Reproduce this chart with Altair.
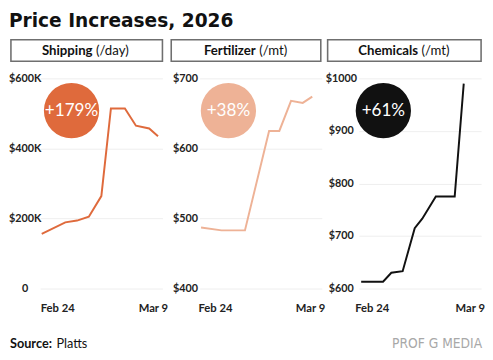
import altair as alt
import pandas as pd

# ---- data ----
ship_days = [-2.1, 1.1, 2.7, 4.3, 6.0, 7.3, 9.2, 10.7, 12.5, 13.7]
ship_vals = [156000, 189000, 194000, 205000, 264000, 514000, 514000, 465000, 457000, 435000]

fert_days = [-1.9, 0.9, 4.1, 7.4, 8.8, 10.4, 12.0, 13.3]
fert_vals = [487, 483, 483, 625, 625, 668, 665, 674]

chem_days = [-1.4, 1.5, 2.6, 4.1, 5.7, 6.7, 8.5, 11.0, 12.2]
chem_vals = [613, 613, 630, 633, 715, 733, 775, 775, 990]

titles_bold = ["Shipping", "Fertilizer", "Chemicals"]
titles_rest = ["(/day)", "(/mt)", "(/mt)"]
changes = ["+179%", "+38%", "+61%"]
x_ticks = [0, 13]
x_tick_labels = ["Feb 24", "Mar 9"]

FONT = "Lato"
W, H = 125, 215


def panel(days, vals, color, ydomain, yvals, ylabel_expr, xdomain, ylab_pad,
          circ_x, pct, tb, tr, split, box_l, box_r, text_color="white",
          extra=None):
    df = pd.DataFrame({"day": days, "value": vals})
    lab_expr = ("datum.value == %d ? '%s' : '%s'"
                % (x_ticks[0], x_tick_labels[0], x_tick_labels[1]))
    line = alt.Chart(df).mark_line(color=color, strokeWidth=2).encode(
        x=alt.X("day:Q",
                scale=alt.Scale(domain=xdomain, nice=False, zero=False),
                axis=alt.Axis(values=x_ticks, labelExpr=lab_expr, grid=False,
                              domain=False, ticks=False, tickSize=0,
                              labelPadding=14, labelFontSize=11.5,
                              labelFont=FONT, labelColor="#222",
                              labelFontWeight="bold", title=None)),
        y=alt.Y("value:Q",
                scale=alt.Scale(domain=ydomain, nice=False, zero=False),
                axis=alt.Axis(values=yvals, labelExpr=ylabel_expr, domain=False,
                              ticks=False, tickSize=0, gridColor="#eeeeee",
                              gridWidth=1, labelAlign="center",
                              labelBaseline="middle",
                              labelPadding=ylab_pad, labelFontSize=11,
                              labelFont=FONT, labelColor="#222",
                              labelFontWeight="bold", title=None)),
    )
    one = alt.Chart(pd.DataFrame({"pct": [pct], "tb": [tb], "tr": [tr]}))
    circ = one.mark_circle(color=color, opacity=1, size=3200).encode(
        x=alt.value(circ_x), y=alt.value(33))
    ctext = one.mark_text(color=text_color, fontSize=17.5, font=FONT,
                          align="center", baseline="middle").encode(
        x=alt.value(circ_x), y=alt.value(34), text="pct:N")
    box = one.mark_rect(fill="white", stroke="#6f6f6f", strokeWidth=1.6).encode(
        x=alt.value(box_l), x2=alt.value(box_r),
        y=alt.value(-39.5), y2=alt.value(-17.5))
    cx = (box_l + box_r) / 2
    hb = one.mark_text(fontSize=13.5, font=FONT, fontWeight="bold", color="#111",
                       align="right", baseline="alphabetic").encode(
        x=alt.value(cx + split), y=alt.value(-23.5), text="tb:N")
    hr = one.mark_text(fontSize=13.5, font=FONT, color="#111",
                       align="left", baseline="alphabetic").encode(
        x=alt.value(cx + split + 3.5), y=alt.value(-23.5), text="tr:N")
    layers = [line, circ, ctext, box, hb, hr]
    if extra:
        layers += extra
    return alt.layer(*layers).properties(width=W, height=H)


meta = alt.Chart(pd.DataFrame({"a": [0]}))
title = meta.mark_text(text="Price Increases, 2026", fontSize=19,
                       font="DejaVu Sans", fontWeight="bold", color="#111",
                       align="left", baseline="alphabetic").encode(
    x=alt.value(-32), y=alt.value(-53))
src_b = meta.mark_text(text="Source:", fontSize=13, font=FONT, fontWeight="bold",
                       color="#111", align="left", baseline="alphabetic").encode(
    x=alt.value(-31), y=alt.value(H + 61))
src_r = meta.mark_text(text="Platts", fontSize=13, font=FONT, color="#111",
                       align="left", baseline="alphabetic").encode(
    x=alt.value(16.5), y=alt.value(H + 61))
brand = meta.mark_text(text="PROF G MEDIA", fontSize=14,
                       font="DejaVu Sans Condensed, Liberation Sans Narrow, Roboto",
                       color="#a8a8a8", align="right",
                       baseline="alphabetic").encode(
    x=alt.value(W + 1), y=alt.value(H + 61))

p1 = panel(ship_days, ship_vals, "#df6a3c", [0, 600000],
           [0, 200000, 400000, 600000],
           "datum.value == 0 ? '0' : '$' + (datum.value / 1000) + 'K'",
           [-2.3, 14.3], 16, 32, changes[0], titles_bold[0], titles_rest[0],
           6, -30, W, extra=[title, src_b, src_r])
p2 = panel(fert_days, fert_vals, "#eeb296", [400, 700], [400, 500, 600, 700],
           "'$' + datum.value", [-2.1, 14.6], 15, 29.5, changes[1],
           titles_bold[1], titles_rest[1], 10, -29, W - 1)
p3 = panel(chem_days, chem_vals, "#111111", [600, 1000],
           [600, 700, 800, 900, 1000], "'$' + datum.value", [-1.7, 14.5], 18.5,
           25, changes[2], titles_bold[2], titles_rest[2], 14, -32, W,
           extra=[brand])

chart = alt.hconcat(p1, p2, p3, spacing=38, bounds="flush").properties(
    padding=0, background="white"
).configure_view(stroke=None)

chart.save("out.html", embed_options={"renderer": "svg", "actions": False})
